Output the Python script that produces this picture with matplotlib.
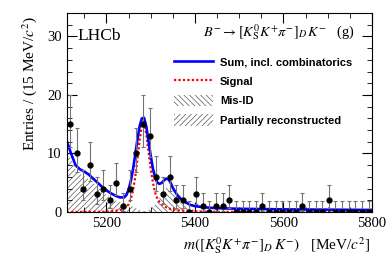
import numpy as np
import matplotlib.pyplot as plt
from matplotlib.lines import Line2D
from matplotlib.patches import Patch

plt.rcParams['font.family'] = ['Liberation Serif', 'DejaVu Serif']
plt.rcParams['mathtext.fontset'] = 'stix'
plt.rcParams['hatch.linewidth'] = 0.5

# data: 15 MeV bins from 5110 to 5800
bin_lo = 5110
bin_w = 15
counts = [15, 10, 4, 8, 3, 4, 2, 5, 1, 4, 10, 15, 13, 6, 3, 6, 2, 2, 0, 3,
          1, 0, 1, 1, 2, 0, 0, 0, 0, 1, 0, 0, 0, 0, 0, 1, 0, 0, 0, 2,
          0, 0, 0, 0, 0, 0]

# fit curves
m_total = [5110, 5120, 5130, 5140, 5150, 5160, 5170, 5180, 5190, 5200, 5210,
           5220, 5230, 5240, 5245, 5250, 5255, 5260, 5265, 5270, 5275, 5280,
           5285, 5290, 5295, 5300, 5305, 5310, 5315, 5320, 5325, 5330, 5335,
           5340, 5345, 5350, 5360, 5370, 5380, 5390, 5400, 5420, 5450, 5500,
           5600, 5700, 5800]
total = [12.2, 10.0, 8.0, 7.3, 6.9, 6.4, 5.7, 5.0, 4.3, 3.7, 3.2,
         2.8, 2.5, 2.5, 2.9, 3.8, 5.3, 7.3, 9.8, 12.4, 14.7, 16.0,
         16.1, 14.6, 12.1, 9.6, 7.4, 5.9, 5.0, 4.8, 5.0, 5.4, 5.7,
         5.6, 5.0, 4.1, 2.9, 2.1, 1.6, 1.2, 1.0, 0.8, 0.65, 0.55,
         0.45, 0.4, 0.35]

m_sig = [5110, 5200, 5230, 5240, 5250, 5255, 5260, 5265, 5270, 5275, 5280,
         5283, 5286, 5290, 5295, 5300, 5305, 5310, 5315, 5320, 5330, 5340,
         5360, 5400, 5450, 5800]
sig = [0.0, 0.05, 0.3, 0.6, 1.3, 2.2, 3.7, 6.0, 9.0, 12.3, 14.8,
       15.2, 15.0, 13.3, 10.3, 7.4, 5.0, 3.3, 2.3, 1.7, 1.0, 0.6,
       0.3, 0.1, 0.03, 0.0]

m_part = [5110, 5120, 5130, 5140, 5150, 5160, 5170, 5180, 5190, 5200, 5210,
          5220, 5230, 5240, 5250, 5260, 5270, 5280, 5290]
part = [11.0, 9.0, 7.2, 6.5, 6.1, 5.6, 4.9, 4.2, 3.5, 2.9, 2.4,
        2.0, 1.7, 1.5, 1.2, 0.9, 0.5, 0.2, 0.0]

m_misid = [5280, 5290, 5300, 5310, 5320, 5330, 5338, 5345, 5350, 5360, 5370,
           5380, 5390, 5400, 5420, 5450, 5500]
misid = [0.0, 0.2, 0.6, 1.3, 2.4, 3.7, 4.4, 4.2, 3.6, 2.3, 1.4,
         0.8, 0.5, 0.35, 0.2, 0.1, 0.0]

centers = bin_lo + bin_w * (np.arange(len(counts)) + 0.5)
n = np.array(counts, dtype=float)
# approximate Poisson (Garwood) intervals
up = 1 + np.sqrt(n + 0.75)
lo = np.where(n > 0, np.sqrt(np.clip(n - 0.25, 0, None)), 0)

fig = plt.figure(figsize=(3.92, 2.66), dpi=100)
ax = fig.add_axes([0.170, 0.203, 0.779, 0.748])

ax.fill_between(m_part, part, 0, facecolor='none', edgecolor='0.35',
                hatch='//////', linewidth=0)
ax.fill_between(m_misid, misid, 0, facecolor='none', edgecolor='0.35',
                hatch='\\\\\\\\\\\\', linewidth=0)
ax.plot(m_sig, sig, color='red', ls=(0, (1, 1)), lw=1.6)
ax.plot(m_total, total, color='blue', lw=1.9)
ax.errorbar(centers, n, yerr=[lo, up], fmt='o', ms=3.5, color='black',
            ecolor='0.45', elinewidth=0.8, capsize=1.5, capthick=0.8)

ax.set_xlim(5110, 5800)
ax.set_ylim(0, 34)
ax.set_xticks([5200, 5400, 5600, 5800])
ax.set_xticks(np.arange(5150, 5800, 50), minor=True)
ax.set_yticks([0, 10, 20, 30])
ax.set_yticks(np.arange(0, 34, 2), minor=True)
ax.tick_params(which='both', direction='in', top=True, right=True,
               labelsize=10.5)
ax.tick_params(which='major', length=7)
ax.tick_params(which='minor', length=3.5)

ax.text(0.037, 0.885, 'LHCb', transform=ax.transAxes, fontsize=12.5,
        va='center')
ax.text(0.445, 0.905,
        r'$B^{-}\rightarrow[K^{0}_{\rm S}K^{+}\pi^{-}]_{D}\,K^{-}$   (g)',
        transform=ax.transAxes, fontsize=10.3, va='center')

handles = [Line2D([], [], color='blue', lw=1.9),
           Line2D([], [], color='red', ls=(0, (1, 1)), lw=1.6),
           Patch(facecolor='none', edgecolor='0.35', hatch='\\\\\\\\\\\\', lw=0),
           Patch(facecolor='none', edgecolor='0.35', hatch='//////', lw=0)]
labels = ['Sum, incl. combinatorics', 'Signal', 'Mis-ID',
          'Partially reconstructed']
ax.legend(handles, labels, loc='upper left', bbox_to_anchor=(0.32, 0.835),
          frameon=False, handlelength=3.5, handleheight=1.2, labelspacing=0.72,
          handletextpad=0.6,
          prop={'family': 'Liberation Sans', 'weight': 'bold', 'size': 8})

fig.text(0.945, 0.075,
         r'$m([K^{0}_{\rm S}K^{+}\pi^{-}]_{D}\,K^{-})$   [MeV/$c^{2}$]',
         ha='right', va='center', fontsize=11)
fig.text(0.075, 0.94, r'Entries / (15 MeV/$c^{2}$)', rotation=90,
         ha='center', va='top', fontsize=11)

fig.savefig('out.png', dpi=100)
